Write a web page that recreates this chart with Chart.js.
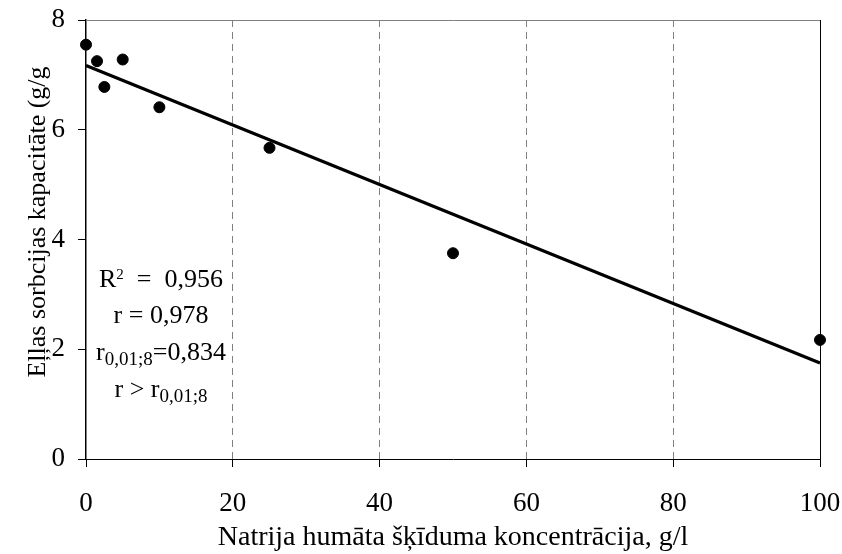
<!DOCTYPE html>
<html>
<head>
<meta charset="utf-8">
<script src="https://cdn.jsdelivr.net/npm/chart.js@4/dist/chart.umd.min.js"></script>
<style>
  html, body { margin: 0; padding: 0; background: #ffffff; }
  #wrap { width: 842px; height: 554px; }
</style>
</head>
<body>
<div id="wrap"><canvas id="c" width="842" height="554"></canvas></div>
<script>
// ---- data ----
const concentrations = [0, 1.5, 2.5, 5, 10, 25, 50, 100];          // g/l
const sorption       = [7.55, 7.25, 6.78, 7.28, 6.41, 5.67, 3.75, 2.17]; // g/g
const trendX = [0, 100];
const trendY = [7.17, 1.75];
const xTicks = [0, 20, 40, 60, 80, 100];
const yTicks = [0, 2, 4, 6, 8];
const xTitle = 'Natrija humāta šķīduma koncentrācija, g/l';
const yTitle = 'Eļļas sorbcijas kapacitāte (g/g';
const statLines = [
  [{t: 'R'}, {t: '2', sup: true}, {t: '  =  0,956'}],
  [{t: 'r = 0,978'}],
  [{t: 'r'}, {t: '0,01;8', sub: true}, {t: '=0,834'}],
  [{t: 'r > r'}, {t: '0,01;8', sub: true}]
];

const FONT = '"Liberation Serif", "Times New Roman", serif';

const textPlugin = {
  id: 'texts',
  afterDatasetsDraw(chart) {
    const {ctx, chartArea} = chart;
    ctx.save();
    ctx.fillStyle = '#000';
    // y axis title (rotated)
    ctx.save();
    ctx.font = '26px ' + FONT;
    ctx.textAlign = 'center';
    ctx.textBaseline = 'alphabetic';
    ctx.translate(45, chartArea.top + 202);
    ctx.rotate(-Math.PI / 2);
    ctx.fillText(yTitle, 0, 0);
    ctx.restore();
    // statistics box
    const cx = chartArea.left + 75;
    const baselines = [267, 303, 340, 377];
    ctx.textBaseline = 'alphabetic';
    ctx.textAlign = 'left';
    statLines.forEach((segs, i) => {
      const fontFor = s => (s.sup ? '15px ' : s.sub ? '19px ' : '26px ') + FONT;
      let w = 0;
      segs.forEach(s => { ctx.font = fontFor(s); w += ctx.measureText(s.t).width; });
      let x = cx - w / 2;
      const by = chartArea.top + baselines[i];
      segs.forEach(s => {
        ctx.font = fontFor(s);
        const dy = s.sup ? -8 : s.sub ? 5 : 0;
        ctx.fillText(s.t, x, by + dy);
        x += ctx.measureText(s.t).width;
      });
    });
    ctx.restore();
  }
};

new Chart(document.getElementById('c'), {
  type: 'scatter',
  data: {
    datasets: [
      {
        type: 'line',
        label: 'trend',
        data: trendX.map((x, i) => ({x, y: trendY[i]})),
        borderColor: '#000',
        borderWidth: 3.2,
        pointRadius: 0,
        fill: false,
        clip: false,
        order: 2
      },
      {
        label: 'data',
        data: concentrations.map((x, i) => ({x, y: sorption[i]})),
        backgroundColor: '#000',
        borderColor: '#000',
        pointRadius: 5.5,
        pointHoverRadius: 5.5,
        clip: false,
        order: 1
      }
    ]
  },
  options: {
    responsive: false,
    animation: false,
    events: [],
    layout: { padding: { top: 20, right: 22, left: 0, bottom: 0 } },
    plugins: { legend: { display: false }, tooltip: { enabled: false } },
    scales: {
      x: {
        type: 'linear', position: 'bottom',
        min: 0, max: 100,
        afterBuildTicks: s => { s.ticks = xTicks.map(v => ({value: v})); },
        afterFit: s => { s.height = 95; s.paddingLeft = 0; s.paddingRight = 0; },
        ticks: { color: '#000', font: { family: FONT, size: 27 }, padding: 21, maxRotation: 0, autoSkip: false },
        grid: {
          color: c => (c.tick && (c.tick.value === 0 || c.tick.value === 100)) ? 'rgba(0,0,0,0)' : '#808080',
          lineWidth: 1,
          tickColor: '#000',
          tickLength: 8,
          tickWidth: 1
        },
        border: { display: true, color: '#000', width: 1, dash: [7, 5] },
        title: { display: true, text: xTitle, color: '#000', font: { family: FONT, size: 28 }, padding: { top: 0, bottom: 0 } }
      },
      y: {
        type: 'linear', position: 'left',
        min: 0, max: 8,
        afterBuildTicks: s => { s.ticks = yTicks.map(v => ({value: v})); },
        afterFit: s => { s.width = 86; s.paddingTop = 0; s.paddingBottom = 0; },
        ticks: { color: '#000', font: { family: FONT, size: 27 }, padding: 13 },
        grid: { drawOnChartArea: false, drawTicks: true, tickColor: '#000', tickLength: 8, tickWidth: 1 },
        border: { display: true, color: '#000', width: 1.5 },
        title: { display: false }
      },
      x2: {
        type: 'linear', position: 'top', min: 0, max: 100,
        ticks: { display: false },
        grid: { display: false },
        border: { display: true, color: '#808080', width: 1 },
        afterFit: s => { s.height = 0; s.paddingLeft = 0; s.paddingRight = 0; }
      },
      y2: {
        type: 'linear', position: 'right', min: 0, max: 8,
        ticks: { display: false },
        grid: { display: false },
        border: { display: true, color: '#000', width: 1 },
        afterFit: s => { s.width = 0; s.paddingTop = 0; s.paddingBottom = 0; }
      }
    }
  },
  plugins: [textPlugin]
});
</script>
</body>
</html>
